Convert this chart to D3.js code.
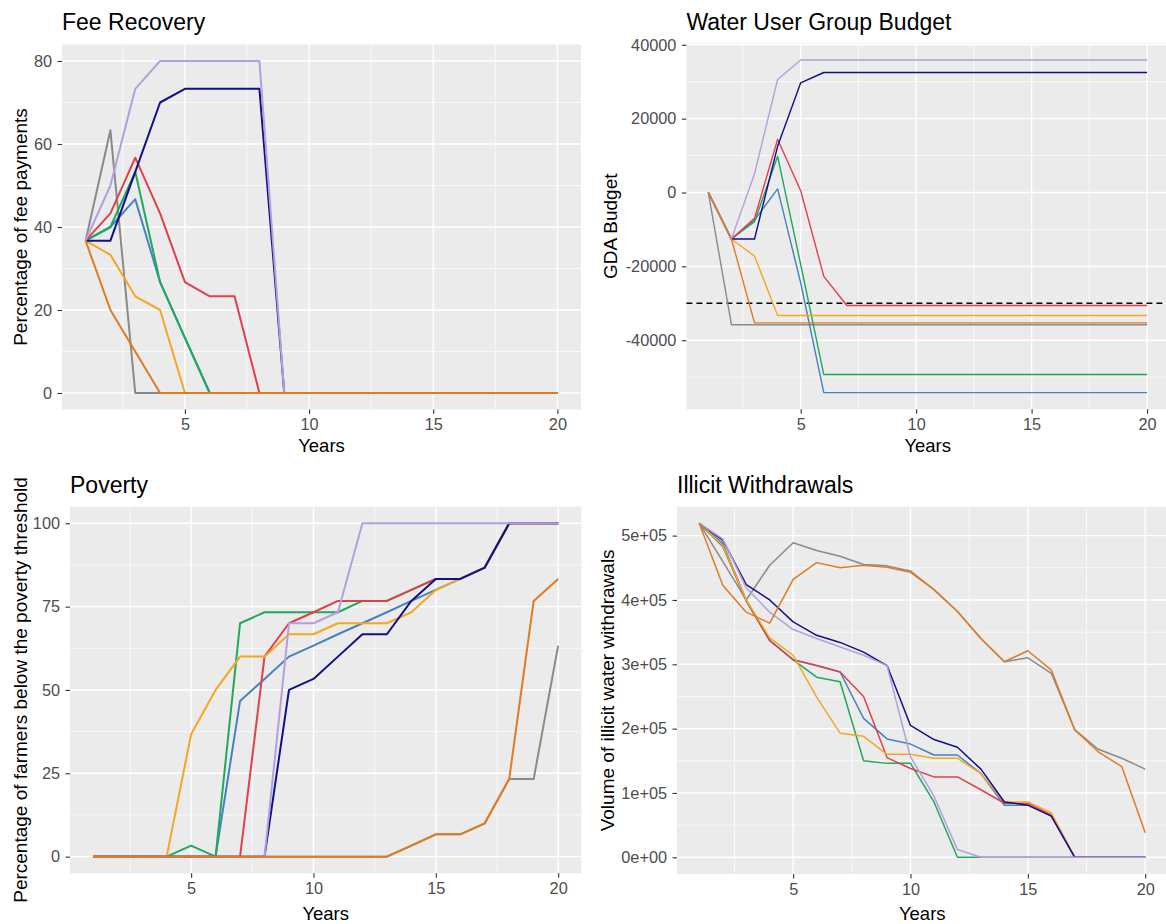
<!DOCTYPE html>
<html>
<head>
<meta charset="utf-8">
<script src="https://cdn.jsdelivr.net/npm/d3@7"></script>
<style>
  body { margin: 0; background: #fff; }
  svg { font-family: 'Liberation Sans', Arial, sans-serif; }
</style>
</head>
<body>
<svg id="chart" width="1166" height="924"></svg>
<script>
// years on the x axis
const years = [1, 2, 3, 4, 5, 6, 7, 8, 9, 10, 11, 12, 13, 14, 15, 16, 17, 18, 19, 20]

// scenario keys, in drawing order, with their line colours
const seriesKeys = ['grey', 'blue', 'green', 'red', 'gold', 'navy', 'lavender', 'darkorange']
const seriesColors = ['#8a8a8a', '#4682c0', '#1fa95b', '#e0404a', '#f5a623', '#10108a', '#b49fdc', '#e07b22']

// Fee Recovery (% of fee payments)
const feeRecovery = {
  grey:       [36.7, 63.3, 0, 0, 0, 0, 0, 0, 0, 0, 0, 0, 0, 0, 0, 0, 0, 0, 0, 0],
  blue:       [36.7, 40, 46.7, 26.7, 13.3, 0, 0, 0, 0, 0, 0, 0, 0, 0, 0, 0, 0, 0, 0, 0],
  green:      [36.7, 40, 53.3, 26.7, 13.3, 0, 0, 0, 0, 0, 0, 0, 0, 0, 0, 0, 0, 0, 0, 0],
  red:        [36.7, 43.3, 56.7, 43.3, 26.7, 23.3, 23.3, 0, 0, 0, 0, 0, 0, 0, 0, 0, 0, 0, 0, 0],
  gold:       [36.7, 33.3, 23.3, 20, 0, 0, 0, 0, 0, 0, 0, 0, 0, 0, 0, 0, 0, 0, 0, 0],
  navy:       [36.7, 36.7, 53.3, 70, 73.3, 73.3, 73.3, 73.3, 0, 0, 0, 0, 0, 0, 0, 0, 0, 0, 0, 0],
  lavender:   [36.7, 50, 73.3, 80, 80, 80, 80, 80, 0, 0, 0, 0, 0, 0, 0, 0, 0, 0, 0, 0],
  darkorange: [36.7, 20, 10, 0, 0, 0, 0, 0, 0, 0, 0, 0, 0, 0, 0, 0, 0, 0, 0, 0]
}

// Water User Group Budget (GDA budget)
const budget = {
  grey:       [0, -35800, -35800, -35800, -35800, -35800, -35800, -35800, -35800, -35800, -35800, -35800, -35800, -35800, -35800, -35800, -35800, -35800, -35800, -35800],
  blue:       [0, -12600, -7500, 1000, -24500, -54200, -54200, -54200, -54200, -54200, -54200, -54200, -54200, -54200, -54200, -54200, -54200, -54200, -54200, -54200],
  green:      [0, -12600, -7900, 9800, -19500, -49300, -49300, -49300, -49300, -49300, -49300, -49300, -49300, -49300, -49300, -49300, -49300, -49300, -49300, -49300],
  red:        [0, -12600, -7000, 14400, 500, -22700, -30600, -30600, -30600, -30600, -30600, -30600, -30600, -30600, -30600, -30600, -30600, -30600, -30600, -30600],
  gold:       [0, -12600, -17200, -33300, -33300, -33300, -33300, -33300, -33300, -33300, -33300, -33300, -33300, -33300, -33300, -33300, -33300, -33300, -33300, -33300],
  navy:       [0, -12600, -12600, 12500, 29700, 32500, 32500, 32500, 32500, 32500, 32500, 32500, 32500, 32500, 32500, 32500, 32500, 32500, 32500, 32500],
  lavender:   [0, -12600, 5100, 30600, 35900, 35900, 35900, 35900, 35900, 35900, 35900, 35900, 35900, 35900, 35900, 35900, 35900, 35900, 35900, 35900],
  darkorange: [0, -12600, -35300, -35300, -35300, -35300, -35300, -35300, -35300, -35300, -35300, -35300, -35300, -35300, -35300, -35300, -35300, -35300, -35300, -35300]
}
const budgetThreshold = -30000

// Poverty (% of farmers below the poverty threshold)
const poverty = {
  grey:       [0, 0, 0, 0, 0, 0, 0, 0, 0, 0, 0, 0, 0, 3.3, 6.7, 6.7, 10, 23.3, 23.3, 63.3],
  blue:       [0, 0, 0, 0, 0, 0, 46.7, 53.3, 60, 63.3, 66.7, 70, 73.3, 76.7, 80, 83.3, 86.7, 100, 100, 100],
  green:      [0, 0, 0, 0, 3.3, 0, 70, 73.3, 73.3, 73.3, 73.3, 76.7, 76.7, 80, 83.3, 83.3, 86.7, 100, 100, 100],
  red:        [0, 0, 0, 0, 0, 0, 0, 60, 70, 73.3, 76.7, 76.7, 76.7, 80, 83.3, 83.3, 86.7, 100, 100, 100],
  gold:       [0, 0, 0, 0, 36.7, 50, 60, 60, 66.7, 66.7, 70, 70, 70, 73.3, 80, 83.3, 86.7, 100, 100, 100],
  navy:       [0, 0, 0, 0, 0, 0, 0, 0, 50, 53.3, 60, 66.7, 66.7, 76.7, 83.3, 83.3, 86.7, 100, 100, 100],
  lavender:   [0, 0, 0, 0, 0, 0, 0, 0, 70, 70, 73.3, 100, 100, 100, 100, 100, 100, 100, 100, 100],
  darkorange: [0, 0, 0, 0, 0, 0, 0, 0, 0, 0, 0, 0, 0, 3.3, 6.7, 6.7, 10, 23.3, 76.7, 83.3]
}

// Illicit Withdrawals (volume of illicit water withdrawals)
const illicit = {
  grey:       [519000, 460000, 400000, 454000, 489000, 477000, 468000, 455000, 453000, 445000, 416000, 382000, 340000, 304000, 310000, 286000, 198000, 168000, 154000, 137000],
  blue:       [519000, 488000, 399000, 337000, 307000, 298000, 288000, 216000, 184000, 176000, 159000, 159000, 130000, 81000, 81000, 64000, 0, 0, 0, 0],
  green:      [519000, 483000, 399000, 337000, 307000, 280000, 273000, 150000, 146000, 146000, 86000, 0, 0, 0, 0, 0, 0, 0, 0, 0],
  red:        [519000, 485000, 399000, 337000, 307000, 298000, 288000, 250000, 155000, 138000, 125000, 125000, 105000, 84000, 84000, 66000, 0, 0, 0, 0],
  gold:       [519000, 485000, 400000, 341000, 314000, 249000, 193000, 188000, 160000, 160000, 154000, 154000, 130000, 86000, 86000, 69000, 0, 0, 0, 0],
  navy:       [519000, 493000, 424000, 400000, 366000, 345000, 334000, 319000, 298000, 205000, 183000, 171000, 137000, 86000, 81000, 64000, 0, 0, 0, 0],
  lavender:   [519000, 495000, 419000, 381000, 354000, 340000, 327000, 314000, 298000, 156000, 95000, 12000, 0, 0, 0, 0, 0, 0, 0, 0],
  darkorange: [519000, 423000, 381000, 364000, 432000, 458000, 450000, 454000, 451000, 443000, 416000, 382000, 340000, 304000, 321000, 291000, 198000, 164000, 141000, 38000]
}

const xTicks = [5, 10, 15, 20]
const xMinor = [2.5, 7.5, 12.5, 17.5]

const svg = d3.select('#chart')

function panel (cfg) {
  const g = svg.append('g')

  // ggplot-like 5% expansion around the data
  let all = []
  seriesKeys.forEach(k => { all = all.concat(cfg.data[k]) })
  const lo = d3.min(all)
  const hi = d3.max(all)
  const pad = (hi - lo) * 0.05

  const x = d3.scaleLinear().domain([1 - 0.95, 20 + 0.95]).range([cfg.left, cfg.right])
  const y = d3.scaleLinear().domain([lo - pad, hi + pad]).range([cfg.bottom, cfg.top])

  g.append('rect')
      .attr('x', cfg.left)
      .attr('y', cfg.top)
      .attr('width', cfg.right - cfg.left)
      .attr('height', cfg.bottom - cfg.top)
      .attr('fill', '#ebebeb')

  // grid, minor first
  const grid = g.append('g').attr('stroke', '#fff')
  grid.selectAll('.ymin').data(cfg.yMinor).enter().append('line')
      .attr('x1', cfg.left).attr('x2', cfg.right)
      .attr('y1', d => y(d)).attr('y2', d => y(d))
      .attr('stroke-width', 0.7)
  grid.selectAll('.xmin').data(xMinor).enter().append('line')
      .attr('y1', cfg.top).attr('y2', cfg.bottom)
      .attr('x1', d => x(d)).attr('x2', d => x(d))
      .attr('stroke-width', 0.7)
  grid.selectAll('.ymaj').data(cfg.yTicks).enter().append('line')
      .attr('x1', cfg.left).attr('x2', cfg.right)
      .attr('y1', d => y(d)).attr('y2', d => y(d))
      .attr('stroke-width', 1.4)
  grid.selectAll('.xmaj').data(xTicks).enter().append('line')
      .attr('y1', cfg.top).attr('y2', cfg.bottom)
      .attr('x1', d => x(d)).attr('x2', d => x(d))
      .attr('stroke-width', 1.4)

  if (cfg.hline !== undefined) {
    g.append('line')
        .attr('x1', cfg.left).attr('x2', cfg.right)
        .attr('y1', y(cfg.hline)).attr('y2', y(cfg.hline))
        .attr('stroke', '#000')
        .attr('stroke-width', 1.6)
        .attr('stroke-dasharray', '6,4')
  }

  const line = d3.line()
      .x((d, i) => x(years[i]))
      .y(d => y(d))

  g.append('g').selectAll('path').data(seriesKeys).enter().append('path')
      .attr('d', k => line(cfg.data[k]))
      .attr('fill', 'none')
      .attr('stroke', (k, i) => seriesColors[i])
      .attr('stroke-width', cfg.lw)
      .attr('stroke-linejoin', 'round')

  // axes
  const xAxis = d3.axisBottom(x).tickValues(xTicks).tickSize(4.5).tickPadding(4.5)
  const yAxis = d3.axisLeft(y).tickValues(cfg.yTicks).tickSize(4.5).tickPadding(5.5)
      .tickFormat(cfg.fmt)

  const gx = g.append('g')
      .attr('transform', 'translate(0,' + cfg.bottom + ')')
      .call(xAxis)
  const gy = g.append('g')
      .attr('transform', 'translate(' + cfg.left + ',0)')
      .call(yAxis)
  ;[gx, gy].forEach(a => {
    a.select('.domain').remove()
    a.selectAll('.tick line').attr('stroke', '#333').attr('stroke-width', 1.1)
    a.selectAll('.tick text')
        .attr('fill', '#4d4d4d')
        .style('font-size', '16.3px')
        .style('font-family', "'Liberation Sans', Arial, sans-serif")
  })

  g.append('text')
      .attr('x', cfg.left)
      .attr('y', cfg.titleY)
      .attr('font-size', 23)
      .attr('fill', '#000')
      .text(cfg.title)

  g.append('text')
      .attr('x', (cfg.left + cfg.right) / 2)
      .attr('y', cfg.xtitleY)
      .attr('text-anchor', 'middle')
      .attr('font-size', 18.5)
      .text('Years')

  g.append('text')
      .attr('transform', 'translate(' + cfg.ytitleX + ',' + ((cfg.top + cfg.bottom) / 2) + ')rotate(-90)')
      .attr('text-anchor', 'middle')
      .attr('font-size', 19)
      .text(cfg.ytitle)
}

panel({
  data: feeRecovery, left: 62, right: 581, top: 44.4, bottom: 409.6,
  title: 'Fee Recovery', titleY: 30, xtitleY: 452,
  ytitle: 'Percentage of fee payments', ytitleX: 27,
  yTicks: [0, 20, 40, 60, 80], yMinor: [10, 30, 50, 70],
  fmt: d3.format('d'), lw: 2
})

panel({
  data: budget, left: 686.4, right: 1169, top: 43.3, bottom: 409.3,
  title: 'Water User Group Budget', titleY: 30, xtitleY: 452,
  ytitle: 'GDA Budget', ytitleX: 617,
  yTicks: [-40000, -20000, 0, 20000, 40000], yMinor: [-50000, -30000, -10000, 10000, 30000],
  fmt: d => String(d), lw: 1.4, hline: budgetThreshold
})

panel({
  data: poverty, left: 70, right: 581.4, top: 506.6, bottom: 873.3,
  title: 'Poverty', titleY: 493, xtitleY: 920,
  ytitle: 'Percentage of farmers below the poverty threshold', ytitleX: 27,
  yTicks: [0, 25, 50, 75, 100], yMinor: [12.5, 37.5, 62.5, 87.5],
  fmt: d3.format('d'), lw: 2
})

panel({
  data: illicit, left: 677, right: 1167.5, top: 506.7, bottom: 874,
  title: 'Illicit Withdrawals', titleY: 493, xtitleY: 920,
  ytitle: 'Volume of illicit water withdrawals', ytitleX: 614,
  yTicks: [0, 100000, 200000, 300000, 400000, 500000],
  yMinor: [50000, 150000, 250000, 350000, 450000],
  fmt: d => (d / 100000) + 'e+0' + (d === 0 ? '0' : '5'), lw: 1.5
})
</script>
</body>
</html>
